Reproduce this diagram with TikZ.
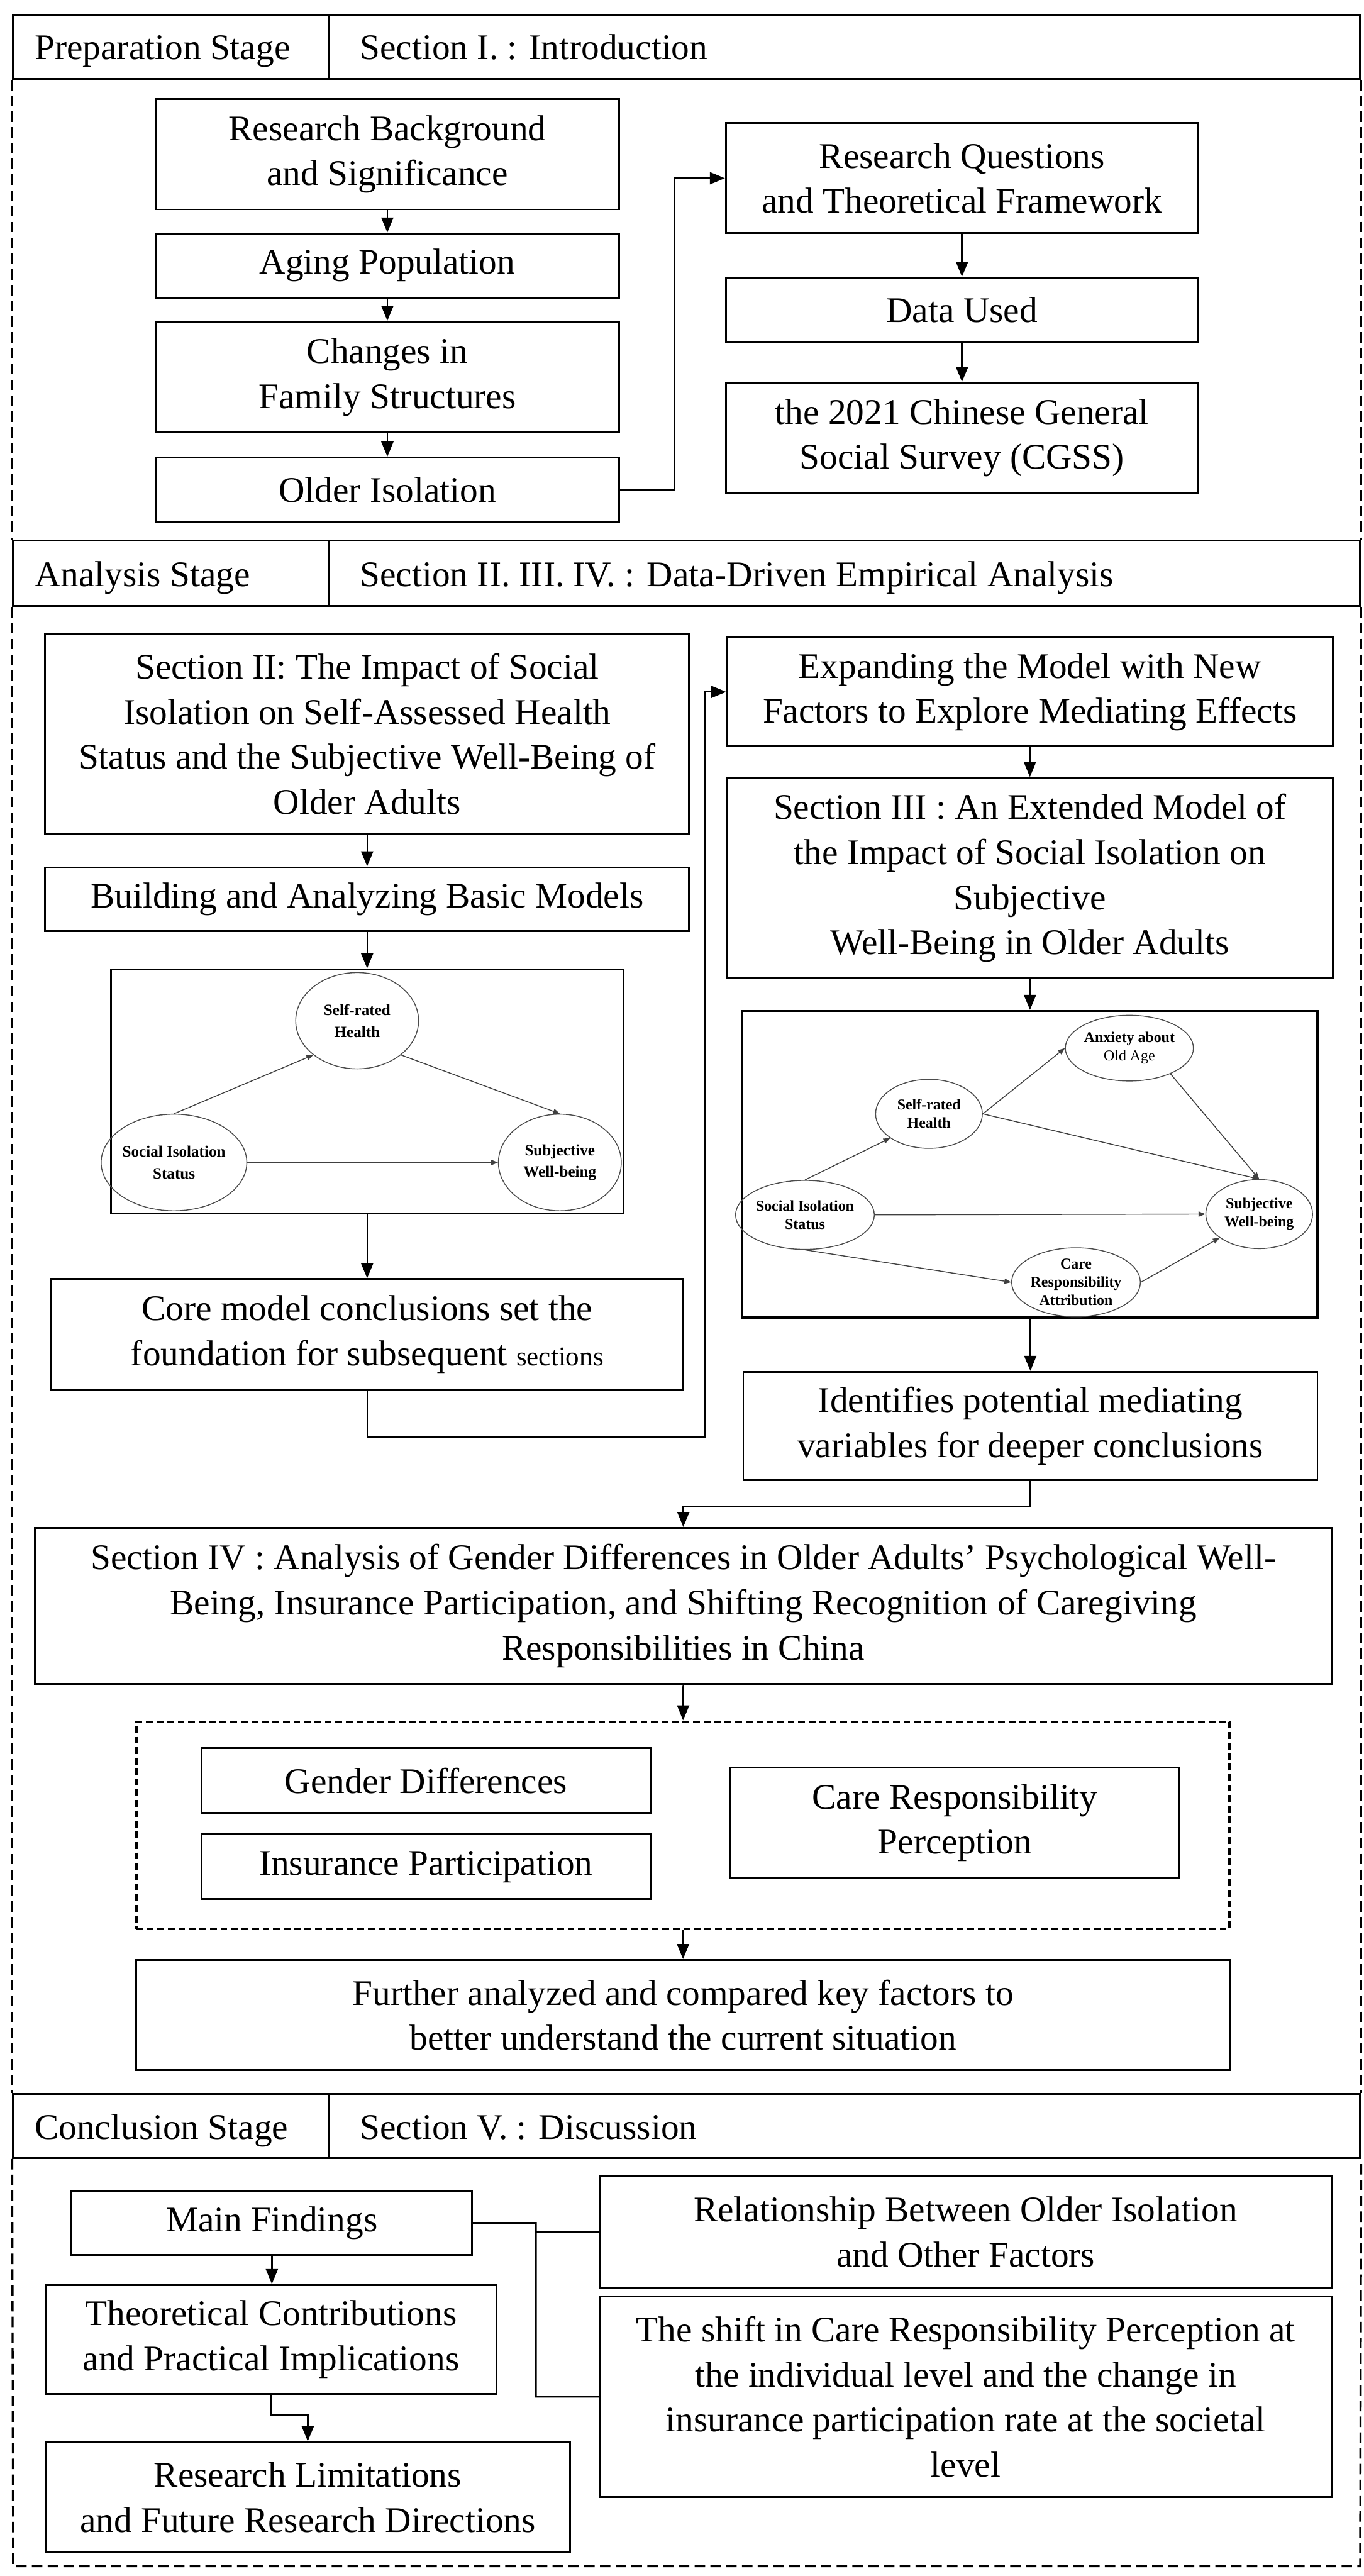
\documentclass[tikz,border=0pt]{standalone}
\usepackage{fontspec}
\setmainfont{Liberation Serif}
\usetikzlibrary{arrows.meta,shapes.geometric,calc}

% \mkbox{style}{name}{x1}{y1}{x2}{y2}{text}
\newcommand\mkbox[7]{%
  \node[#1, minimum width={(#5-#3)*0.03842cm}, minimum height={(#6-#4)*0.03842cm}]
    (#2) at ({(#3+#5)/2},{(#4+#6)/2}) {#7};}
% \mkell{style}{name}{cx}{cy}{rx}{ry}{text}
\newcommand\mkell[7]{%
  \node[#1, minimum width={2*#5*0.03842cm}, minimum height={2*#6*0.03842cm}]
    (#2) at (#3,#4) {#7};}

\tikzset{
  box/.style={draw, line width=1.2pt, rectangle, inner sep=0pt, align=center,
              font=\fontsize{24}{30}\selectfont},
  hdr/.style={draw, line width=1.3pt, rectangle, inner sep=0pt},
  hdrtxt/.style={anchor=base west, inner sep=0pt, font=\fontsize{24}{30}\selectfont},
  stagedash/.style={line width=1.4pt, dash pattern=on 7pt off 3.5pt},
  grpbox/.style={draw, rectangle, inner sep=0pt, line width=1.8pt, dash pattern=on 4.5pt off 2.5pt},
  pbox/.style={draw, rectangle, inner sep=0pt, line width=1.3pt},
  arr/.style={line width=1.1pt, -{Triangle[length=10pt,width=8pt]}},
  ln/.style={line width=1.1pt},
  ella/.style={ellipse, draw=black!70, line width=0.6pt, inner sep=0pt, align=center,
               font=\bfseries\fontsize{10.5}{14.5}\selectfont},
  ellb/.style={ellipse, draw=black!70, line width=0.6pt, inner sep=0pt, align=center,
               font=\bfseries\fontsize{10}{12.2}\selectfont},
  parr/.style={draw=black!75, line width=0.6pt, -{Triangle[length=4.5pt,width=3.5pt]}},
}

\begin{document}
\begin{tikzpicture}[x=0.03842cm, y=-0.03842cm]
\fill[white] (0,0) rectangle (830,1568);
\useasboundingbox (0,0) rectangle (830,1568);

% ---------------- Stage headers ----------------
\mkbox{hdr}{h1a}{8}{9}{200}{48}{}
\mkbox{hdr}{h1b}{200}{9}{828}{48}{}
\node[hdrtxt] (t1a) at (21,36) {Preparation Stage};
\node[hdrtxt] (t1b) at (219,36) {Section I. : Introduction};

\mkbox{hdr}{h2a}{8}{329}{200}{369}{}
\mkbox{hdr}{h2b}{200}{329}{828}{369}{}
\node[hdrtxt] (t2a) at (21,357) {Analysis Stage};
\node[hdrtxt] (t2b) at (219,357) {Section II. III. IV. : Data-Driven Empirical Analysis};

\mkbox{hdr}{h3a}{8}{1274.5}{200}{1313.5}{}
\mkbox{hdr}{h3b}{200}{1274.5}{828}{1313.5}{}
\node[hdrtxt] (t3a) at (21,1302) {Conclusion Stage};
\node[hdrtxt] (t3b) at (219,1302) {Section V. : Discussion};

% stage dashed frames
\draw[stagedash] (h1a.south west) -- (h2a.north west);
\draw[stagedash] (h1b.south east) -- (h2b.north east);
\draw[stagedash] (h2a.south west) -- (h3a.north west);
\draw[stagedash] (h2b.south east) -- (h3b.north east);
\coordinate (cbl) at (8,1562);
\coordinate (cbr) at (828,1562);
\draw[stagedash] (h3a.south west) -- (cbl) -- (cbr) -- (h3b.south east);

% ---------------- Stage 1 ----------------
\mkbox{box}{rb}{94.7}{60.3}{376.9}{127.5}{Research Background\\and Significance}
\mkbox{box}{ap}{94.7}{142.1}{376.9}{181.2}{Aging Population}
\mkbox{box}{cf}{94.7}{195.8}{376.9}{263.2}{Changes in\\Family Structures}
\mkbox{box}{oi}{94.7}{278.5}{376.9}{318}{Older Isolation}
\mkbox{box}{rq}{441.8}{75}{729.4}{142}{Research Questions\\and Theoretical Framework}
\mkbox{box}{du}{441.8}{169}{729.4}{208.5}{Data Used}
\mkbox{box}{cg}{441.8}{233}{729.4}{300.1}{the 2021 Chinese General\\Social Survey (CGSS)}

\draw[arr] (rb.south) -- (ap.north);
\draw[arr] (ap.south) -- (cf.north);
\draw[arr] (cf.south) -- (oi.north);
\draw[arr] (oi.east) -- ++(33,0) |- (rq.west);
\draw[arr] (rq.south) -- (du.north);
\draw[arr] (du.south) -- (cg.north);

% ---------------- Stage 2 ----------------
\mkbox{box}{s2}{27.5}{385.8}{419.5}{507.8}{Section II: The Impact of Social\\Isolation on Self-Assessed Health\\Status and the Subjective Well-Being of\\Older Adults}
\mkbox{box}{build}{27.5}{527.9}{419.5}{566.9}{Building and Analyzing Basic Models}
\mkbox{pbox}{pb1}{67.5}{590}{379.5}{738.7}{}
\mkbox{box}{core}{31}{778.6}{416}{846}{Core model conclusions set the\\foundation for subsequent {\fontsize{18}{30}\selectfont sections}}

\mkell{ella}{srh1}{217.4}{621.3}{37.4}{29.3}{Self-rated\\Health}
\mkell{ella}{sis1}{105.9}{707.6}{37.4}{29.4}{Social Isolation\\Status}
\mkell{ella}{swb1}{340.8}{707.6}{37.4}{29.4}{Subjective\\Well-being}
\draw[parr] (sis1.north) -- (srh1.218);
\draw[parr] (srh1.322) -- (swb1.north);
\draw[parr] (sis1.east) -- (swb1.west);

\draw[arr] (s2.south) -- (build.north);
\draw[arr] (build.south) -- (pb1.north);
\draw[arr] (pb1.south) -- (core.north);

\mkbox{box}{exp}{442.6}{388}{811.3}{454.3}{Expanding the Model with New\\Factors to Explore Mediating Effects}
\mkbox{box}{s3}{442.6}{473.5}{811.3}{595.5}{Section III : An Extended Model of\\the Impact of Social Isolation on\\Subjective\\Well-Being in Older Adults}
\mkbox{pbox}{pb2}{452}{615.3}{802}{802}{}
\mkbox{box}{ident}{452.5}{835}{802}{901}{Identifies potential mediating\\variables for deeper conclusions}

\mkell{ellb}{anx}{687.5}{638}{32.5}{20}{Anxiety about\\{\mdseries Old Age}}
\mkell{ellb}{srh2}{565.5}{678}{32.5}{21}{Self-rated\\Health}
\mkell{ellb}{sis2}{490}{739.5}{33}{21}{Social Isolation\\Status}
\mkell{ellb}{swb2}{766.5}{739}{32.5}{21}{Subjective\\Well-being}
\mkell{ellb}{care}{655}{780.5}{32.5}{21}{Care\\Responsibility\\Attribution}
\draw[parr] (sis2.north) -- (srh2.212);
\draw[parr] (srh2.east) -- (anx.west);
\draw[parr] (srh2.east) -- (swb2.north);
\draw[parr] (anx.-32) -- (swb2.north);
\draw[parr] (sis2.east) -- (swb2.west);
\draw[parr] (sis2.south) -- (care.west);
\draw[parr] (care.east) -- (swb2.211);

\coordinate (j1) at (429,875);
\draw[arr] (core.south) |- (j1) |- (exp.west);
\draw[arr] (exp.south) -- (s3.north);
\draw[arr] (s3.south) -- (pb2.north);
\draw[arr] (pb2.south) -- (ident.north);

\mkbox{box}{s4}{21.3}{930}{810.6}{1025}{Section IV : Analysis of Gender Differences in Older Adults’ Psychological Well-\\Being, Insurance Participation, and Shifting Recognition of Caregiving\\Responsibilities in China}
\draw[arr] (ident.south) -- ++(0,15.7) -| (s4.north);

\mkbox{grpbox}{grp}{83}{1048}{748.6}{1174}{}
\mkbox{box}{gd}{122.6}{1064}{396}{1103.6}{Gender Differences}
\mkbox{box}{ip}{122.6}{1116.6}{396}{1156}{Insurance Participation}
\mkbox{box}{crp}{444.6}{1076}{718}{1143}{Care Responsibility\\Perception}
\mkbox{box}{fur}{83}{1193}{748.6}{1260}{Further analyzed and compared key factors to\\better understand the current situation}
\draw[arr] (s4.south) -- (grp.north);
\draw[arr] (grp.south) -- (fur.north);

% ---------------- Stage 3 ----------------
\mkbox{box}{mf}{43.6}{1333.4}{287.4}{1372.7}{Main Findings}
\mkbox{box}{tc}{27.7}{1390.8}{302.3}{1457.2}{Theoretical Contributions\\and Practical Implications}
\mkbox{box}{rl}{27.7}{1486.5}{347}{1553.6}{Research Limitations\\and Future Research Directions}
\mkbox{box}{rel}{365.1}{1324.6}{810.6}{1392.3}{Relationship Between Older Isolation\\and Other Factors}
\mkbox{box}{shift}{365.1}{1398}{810.6}{1519.8}{The shift in Care Responsibility Perception at\\the individual level and the change in\\insurance participation rate at the societal\\level}

\coordinate (br) at (326.3,1353.05);
\draw[ln] (mf.east) -- (br) |- (shift.west);
\draw[ln] (br |- rel.west) -- (rel.west);
\draw[arr] (mf.south) -- (mf.south |- tc.north);
\draw[arr] (tc.south) -- ++(0,12.2) -| (rl.north);

\end{tikzpicture}
\end{document}
